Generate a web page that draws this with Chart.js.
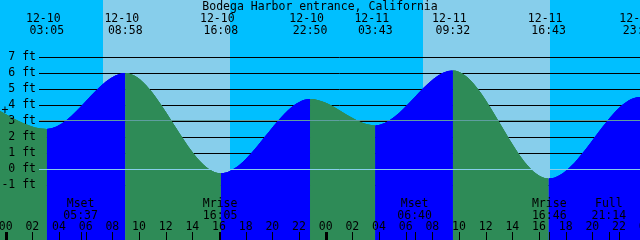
<!DOCTYPE html>
<html>
<head>
<meta charset="utf-8">
<script src="https://cdn.jsdelivr.net/npm/chart.js@4/dist/chart.umd.min.js"></script>
<style>
  html, body { margin: 0; padding: 0; background: #00bfff; }
</style>
</head>
<body>
<canvas id="tideChart" width="640" height="240"></canvas>
<script>
// hours counted from 12-10 00:00
const tideHours = [-1.8, 3.083, 8.967, 16.133, 22.833, 27.717, 33.533, 40.717, 47.58, 52.3];
const tideFeet  = [4.2, 2.5, 6.0, -0.27, 4.37, 2.72, 6.15, -0.6, 4.5, 2.9];
const tideDates = ['', '12-10', '12-10', '12-10', '12-10', '12-11', '12-11', '12-11', '12-11', ''];
const tideTimes = ['', '03:05', '08:58', '16:08', '22:50', '03:43', '09:32', '16:43', '23:35', ''];

const sunriseHours = [7.28, 31.28];
const sunsetHours  = [16.82, 40.82];

const moonHours  = [5.617, 16.083, 30.667, 40.767, 45.233];
const moonEvents = ['Mset', 'Mrise', 'Mset', 'Mrise', 'Full'];
const moonTimes  = ['05:37', '16:05', '06:40', '16:46', '21:14'];

const feetTicks = [-1, 0, 1, 2, 3, 4, 5, 6, 7];
const hourTicks = [0, 2, 4, 6, 8, 10, 12, 14, 16, 18, 20, 22, 24, 26, 28, 30, 32, 34, 36, 38, 40, 42, 44, 46, 48];
const meanLevel = 3.06;

const title = 'Bodega Harbor entrance, California';

const nightColor = '#00bfff';
const dayColor = '#87ceeb';
const risingColor = '#0000ff';
const fallingColor = '#2e8b57';
const font = '11.5px "DejaVu Sans Mono"';

const tideDecor = {
  id: 'tideDecor',
  beforeDatasetsDraw(chart) {
    const { ctx, chartArea: a, scales: { x, y } } = chart;
    ctx.save();
    ctx.fillStyle = nightColor;
    ctx.fillRect(a.left, a.top, a.width, a.height);
    ctx.fillStyle = dayColor;
    sunriseHours.forEach((h, i) => {
      const x0 = Math.round(x.getPixelForValue(h));
      const x1 = Math.round(x.getPixelForValue(sunsetHours[i]));
      ctx.fillRect(x0, a.top, x1 - x0, a.height);
    });
    ctx.strokeStyle = '#000';
    ctx.lineWidth = 1;
    feetTicks.forEach(v => {
      const py = Math.round(y.getPixelForValue(v)) + 0.5;
      ctx.beginPath();
      ctx.moveTo(39, py);
      ctx.lineTo(a.right, py);
      ctx.stroke();
    });
    ctx.restore();
  },
  afterDatasetsDraw(chart) {
    const { ctx, chartArea: a, scales: { x, y } } = chart;
    ctx.save();
    // datum and mean lines
    ctx.lineWidth = 1;
    ctx.strokeStyle = '#87ceeb';
    let py = Math.round(y.getPixelForValue(0)) + 0.5;
    ctx.beginPath(); ctx.moveTo(39, py); ctx.lineTo(a.right, py); ctx.stroke();
    ctx.strokeStyle = '#5f9ea0';
    py = Math.round(y.getPixelForValue(meanLevel)) + 0.5;
    ctx.beginPath(); ctx.moveTo(39, py); ctx.lineTo(a.right, py); ctx.stroke();

    ctx.fillStyle = '#000';
    ctx.font = font;

    // title
    ctx.textAlign = 'center';
    ctx.textBaseline = 'alphabetic';
    ctx.fillText(title, 320, 10);

    // high / low labels
    tideHours.forEach((h, i) => {
      if (!tideDates[i]) return;
      const px = x.getPixelForValue(h);
      ctx.fillText(tideDates[i], px - 3.5, 21.5);
      ctx.fillText(tideTimes[i], px, 33.5);
    });

    // depth labels
    ctx.textAlign = 'right';
    ctx.textBaseline = 'middle';
    feetTicks.forEach(v => {
      ctx.fillText(v + ' ft', 36, Math.round(y.getPixelForValue(v)) + 0.5);
    });
    ctx.textAlign = 'center';
    ctx.fillText('+', 5, 111);

    // moon events
    ctx.textBaseline = 'alphabetic';
    moonHours.forEach((h, i) => {
      const px = x.getPixelForValue(h);
      ctx.fillText(moonEvents[i], px, 206.5);
      ctx.fillText(moonTimes[i], px, 218.5);
    });

    // hour labels and ticks
    hourTicks.forEach(h => {
      const px = x.getPixelForValue(h);
      const label = String(h % 24).padStart(2, '0');
      ctx.fillText(label, px, 229.5);
      if (h % 24 === 0) {
        ctx.fillRect(Math.round(px) - 1, 232, 3, 8);
      } else {
        ctx.fillRect(Math.round(px), 232, 1, 8);
      }
    });
    moonHours.forEach(h => {
      ctx.fillRect(Math.round(x.getPixelForValue(h)), 232, 1, 8);
    });
    ctx.restore();
  }
};

// same curve drawn a few times over itself so the seams between coloured segments close up
const tideSet = () => ({
  data: tideHours.map((h, i) => ({ x: h, y: tideFeet[i] })),
  fill: 'start',
  borderWidth: 0,
  pointRadius: 0,
  cubicInterpolationMode: 'monotone',
  backgroundColor: risingColor,
  segment: {
    backgroundColor: c => c.p1.parsed.y >= c.p0.parsed.y ? risingColor : fallingColor
  }
});

new Chart(document.getElementById('tideChart'), {
  type: 'line',
  data: { datasets: [tideSet(), tideSet(), tideSet()] },
  options: {
    responsive: false,
    animation: false,
    layout: { padding: 0 },
    plugins: { legend: { display: false }, tooltip: { enabled: false } },
    scales: {
      x: { type: 'linear', display: false, min: -0.4275, max: 47.5725 },
      y: { display: false, min: -4.4375, max: 10.5625 }
    }
  },
  plugins: [tideDecor]
});
</script>
</body>
</html>
